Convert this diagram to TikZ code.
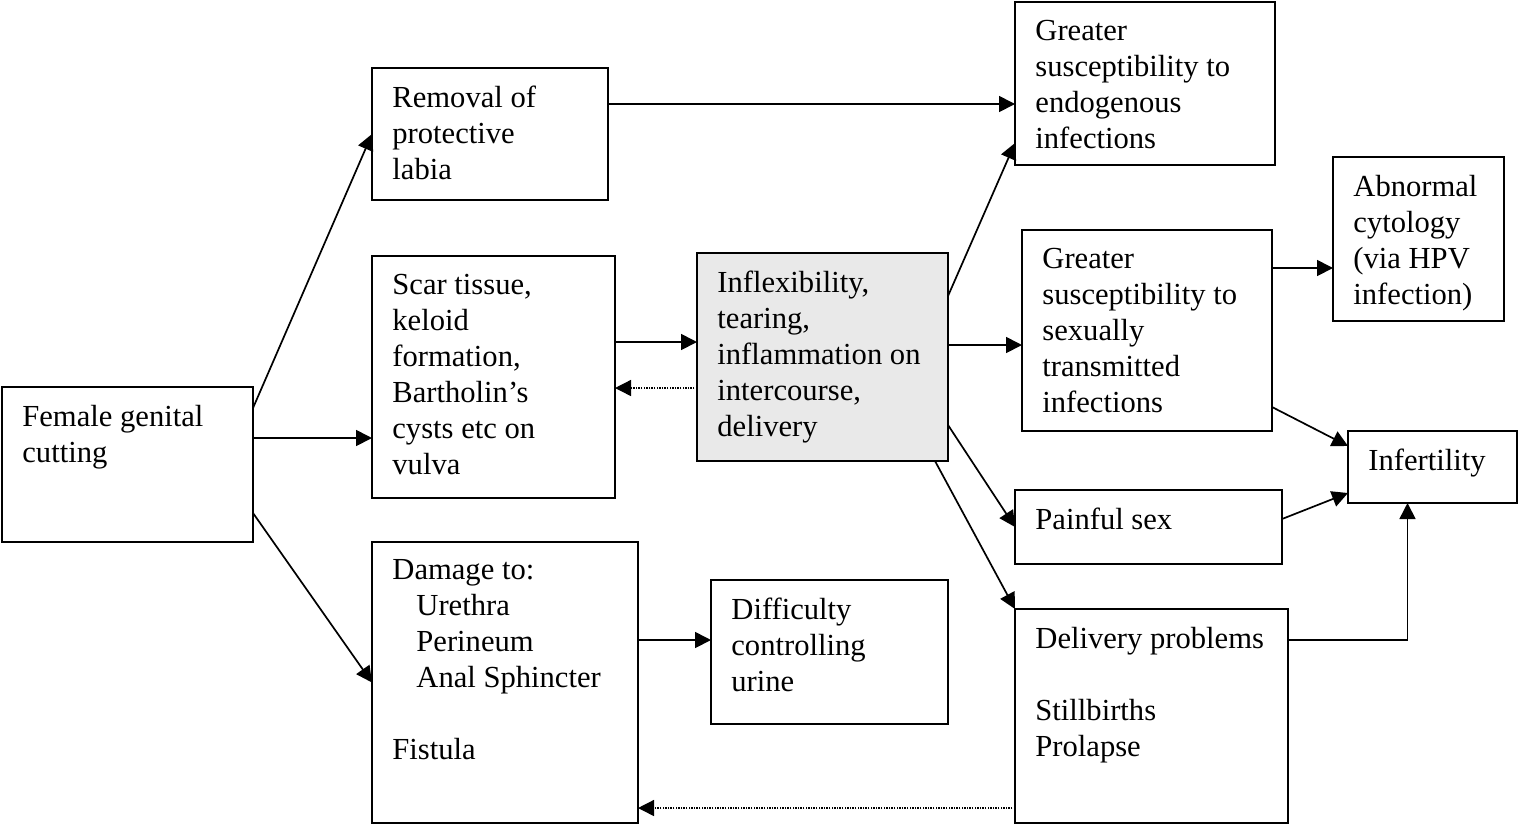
\documentclass[tikz,border=0pt]{standalone}
\usepackage{fontspec}
\setmainfont{Liberation Serif}
\usetikzlibrary{arrows.meta}
\newcommand\bx[7][]{%
  \pgfmathsetmacro\bw{(#5-#3)*0.5}%
  \pgfmathsetmacro\bh{(#6-#4)*0.5}%
  \node[box,#1,anchor=north west,minimum width=\bw pt,minimum height=\bh pt] (#2) at (#3,#4) {};
  \node[txt,anchor=north west] (#2-t) at ([xshift=10pt,yshift=-8.75pt]#2.north west) {#7};
}
\begin{document}
\begin{tikzpicture}[x=0.5pt,y=-0.5pt,
  box/.style={draw,line width=0.85pt,inner sep=0pt,outer sep=0pt,rectangle},
  txt/.style={inner sep=0pt,align=left,font=\fontsize{15.3pt}{18pt}\selectfont},
  arr/.style={line width=0.85pt,-{Triangle[length=8pt,width=8pt]}},
  dot/.style={line width=0.7pt,dash pattern=on 0.7pt off 0.6pt,-{Triangle[length=8pt,width=8pt]}}]
\useasboundingbox (0,0) rectangle (1519,826);
\bx{fgc}{2}{387}{253}{542}{Female genital\\cutting}
\bx{rem}{372}{68}{608}{200}{Removal of\\protective\\labia}
\bx{scar}{372}{256}{615}{498}{Scar tissue,\\keloid\\formation,\\Bartholin’s\\cysts etc on\\vulva}
\bx{dam}{372}{542}{638}{823}{Damage to:\\\hspace*{12pt}Urethra\\\hspace*{12pt}Perineum\\\hspace*{12pt}Anal Sphincter\\[18pt]Fistula}
\bx[fill={rgb,255:red,233;green,233;blue,233}]{infl}{697}{253}{948}{461}{Inflexibility,\\tearing,\\inflammation on\\intercourse,\\delivery}
\bx{diff}{711}{580}{948}{724}{Difficulty\\controlling\\urine}
\bx{endo}{1015}{2}{1275}{165}{Greater\\susceptibility to\\endogenous\\infections}
\bx{sti}{1022}{230}{1272}{431}{Greater\\susceptibility to\\sexually\\transmitted\\infections}
\bx{abn}{1333}{157}{1504}{321}{Abnormal\\cytology\\(via HPV\\infection)}
\bx{inf}{1348}{431}{1517}{503}{Infertility}
\bx{pain}{1015}{490}{1282}{564}{Painful sex}
\bx{del}{1015}{609}{1288}{823}{Delivery problems\\[18pt]Stillbirths\\Prolapse}
% connectors
\draw[arr] ([yshift=-10.5pt]fgc.north east) -- (rem.west);
\coordinate (c2) at ([yshift=-25.5pt]fgc.north east);
\draw[arr] (c2) -- (c2 -| scar.west);
\draw[arr] ([yshift=14.5pt]fgc.south east) -- (dam.west);
\coordinate (c4) at ([yshift=-18pt]rem.north east);
\draw[arr] (c4) -- (c4 -| endo.west);
\coordinate (c5) at ([yshift=-43pt]scar.north east);
\draw[arr] (c5) -- (c5 -| infl.west);
\coordinate (c6) at ([yshift=-67.5pt]infl.north west);
\draw[dot] (c6) -- (c6 -| scar.east);
\coordinate (c7) at ([yshift=-49pt]dam.north east);
\draw[arr] (c7) -- (c7 -| diff.west);
\draw[arr] ([yshift=-21.5pt]infl.north east) -- ([yshift=11pt]endo.south west);
\coordinate (c9) at ([yshift=-46pt]infl.north east);
\draw[arr] (c9) -- (c9 -| sti.west);
\draw[arr] ([yshift=18pt]infl.south east) -- ([yshift=-18.5pt]pain.north west);
\draw[arr] ([xshift=-6.5pt]infl.south east) -- (del.north west);
\coordinate (c12) at ([yshift=-19pt]sti.north east);
\draw[arr] (c12) -- (c12 -| abn.west);
\draw[arr] ([yshift=12pt]sti.south east) -- ([yshift=-7.5pt]inf.north west);
\draw[arr] ([yshift=-14.5pt]pain.north east) -- ([yshift=5pt]inf.south west);
\draw[arr] ([yshift=-15.5pt]del.north east) -| ([xshift=-12.5pt]inf.south);
\coordinate (c16) at ([yshift=7.5pt]del.south west);
\draw[dot] (c16) -- (c16 -| dam.east);
\end{tikzpicture}
\end{document}
